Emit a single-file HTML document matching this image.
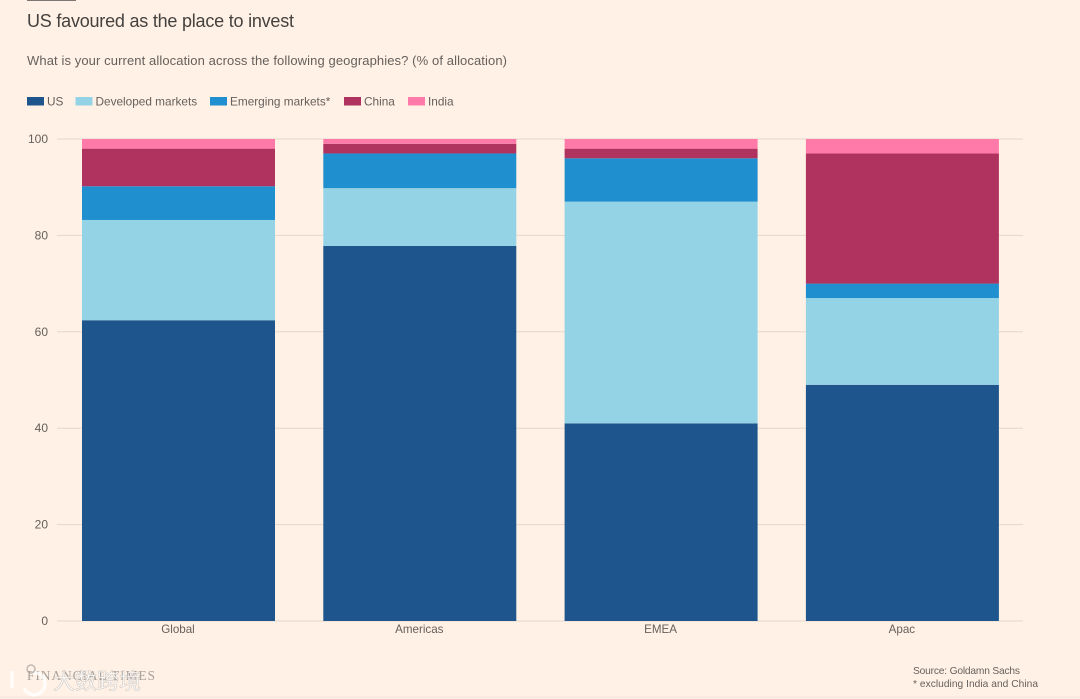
<!DOCTYPE html>
<html lang="en">
<head>
<meta charset="utf-8">
<title>US favoured as the place to invest</title>
<style>
html,body{margin:0;padding:0;background:#fff1e5;}
body{width:1080px;height:699px;overflow:hidden;position:relative;}
svg{position:absolute;left:0;top:0;display:block;}
text{font-family:"Liberation Sans","Noto Sans CJK SC",sans-serif;fill:#66605c;}
</style>
</head>
<body>
<svg id="chart" width="1080" height="699" viewBox="0 0 1080 699" xmlns="http://www.w3.org/2000/svg">
  <rect x="0" y="0" width="1080" height="699" fill="#fff1e5"/>
  <rect x="0" y="696" width="1080" height="3" fill="#f8eadf"/>
  <rect x="27" y="0" width="49" height="1" fill="#7d7672"/>
  <text x="27" y="27" font-size="18" textLength="267" lengthAdjust="spacing" style="fill:#45413f">US favoured as the place to invest</text>
  <text x="27" y="65" font-size="13" textLength="480" lengthAdjust="spacing">What is your current allocation across the following geographies? (% of allocation)</text>
  <g id="legend"></g>
  <g id="grid"></g>
  <g id="bars"></g>
  <g id="ylabels"></g>
  <g id="xlabels"></g>
  <text x="27" y="680" font-size="13.5" textLength="128" lengthAdjust="spacing" style="font-family:'Liberation Serif',serif;fill:#a8a19c">FINANCIAL TIMES</text>
  <text x="913" y="674" font-size="10.2" textLength="107" lengthAdjust="spacing">Source: Goldamn Sachs</text>
  <text x="913" y="687" font-size="10.2" textLength="125" lengthAdjust="spacing">* excluding India and China</text>
  <g>
    <path d="M12 671 V688 M32 673 A11 11 0 1 1 24 688" fill="none" stroke="#ffffff" stroke-opacity="0.8" stroke-width="3.5"/>
    <circle cx="31" cy="669" r="4" fill="none" stroke="#a8a19c" stroke-opacity="0.7" stroke-width="1.5"/>
    <text x="53" y="689" font-size="22" textLength="88" lengthAdjust="spacing" style="fill:#ffffff;fill-opacity:.85;stroke:#8d8782;stroke-opacity:.4;stroke-width:.6;font-family:'Noto Sans CJK SC',sans-serif">大数跨境</text>
  </g>
</svg>
<script>
const categories = ["Global", "Americas", "EMEA", "Apac"];
const seriesNames = ["US", "Developed markets", "Emerging markets*", "China", "India"];
const usValues = [62.4, 77.8, 41, 49];
const developedValues = [20.8, 12, 46, 18];
const emergingValues = [7, 7.2, 9, 3];
const chinaValues = [7.8, 2, 2, 27];
const indiaValues = [2, 1, 2, 3];
const yTicks = [0, 20, 40, 60, 80, 100];

const seriesValues = [usValues, developedValues, emergingValues, chinaValues, indiaValues];
const seriesColors = ["#1f558d", "#94d3e6", "#1f8fd0", "#b0325f", "#ff7aa8"];
const NS = "http://www.w3.org/2000/svg";

const plotLeft = 57, plotRight = 1023, plotTop = 139, plotBottom = 621;
const bandStart = 57.5, bandStep = 241.3, barWidth = 193, barOffset = 24.5;

function yScale(v) {
  return plotBottom - (v / 100) * (plotBottom - plotTop);
}
function xScale(i) {
  return bandStart + barOffset + i * bandStep;
}
function make(tag, attrs, parent, content) {
  const el = document.createElementNS(NS, tag);
  for (const k in attrs) el.setAttribute(k, attrs[k]);
  if (content !== undefined) el.textContent = content;
  parent.appendChild(el);
  return el;
}

const gridGroup = document.getElementById("grid");
const yGroup = document.getElementById("ylabels");
yTicks.forEach(function (t) {
  const line = make("line", {x1: plotLeft, x2: plotRight, y1: yScale(t), y2: yScale(t), stroke: "#e4d7cb", "stroke-width": 1}, gridGroup);
  
  
  const label = make("text", {x: 48, y: yScale(t) + 4, "text-anchor": "end", "font-size": 12}, yGroup, String(t));
  
  
});

const barsGroup = document.getElementById("bars");
categories.forEach(function (cat, i) {
  let running = 0;
  seriesValues.forEach(function (vals, s) {
    const y0 = yScale(running);
    running += vals[i];
    const y1 = yScale(running);
    const seg = make("rect", {x: xScale(i), y: y1, width: barWidth, height: y0 - y1, fill: seriesColors[s]}, barsGroup);
    
    
  });
});

const xGroup = document.getElementById("xlabels");
categories.forEach(function (cat, i) {
  const label = make("text", {x: xScale(i) + barWidth / 2 - 0.5, y: 633, "text-anchor": "middle", "font-size": 11.6}, xGroup, cat);
  
  
});

const legendGroup = document.getElementById("legend");
const legendSwatchX = [27, 75.5, 210, 344, 408];
seriesNames.forEach(function (name, s) {
  const swatch = make("rect", {x: legendSwatchX[s], y: 97, width: 17, height: 8.5, fill: seriesColors[s]}, legendGroup);
  
  
  const label = make("text", {x: legendSwatchX[s] + 20, y: 105.5, "font-size": 11.8}, legendGroup, name);
  
  
});
</script>
</body>
</html>
